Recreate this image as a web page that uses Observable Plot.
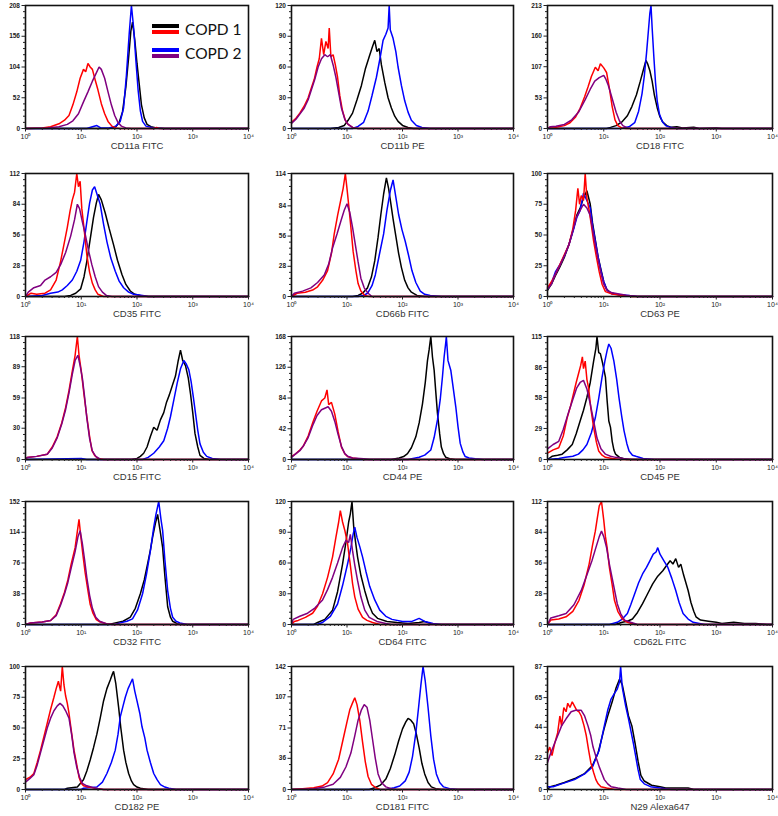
<!DOCTYPE html>
<html>
<head>
<meta charset="utf-8">
<script src="https://cdn.jsdelivr.net/npm/d3@7"></script>
<script src="https://cdn.jsdelivr.net/npm/@observablehq/plot@0.6"></script>
<style>
  html, body { margin: 0; padding: 0; background: #fff; }
  #wrap { position: relative; width: 778px; height: 816px; overflow: hidden; font-family: "Liberation Sans", Arial, sans-serif; }
  #wrap svg { position: absolute; overflow: visible; }
  .lg-line { position: absolute; height: 4px; width: 27px; }
  .lg-text { position: absolute; font-family: Lato, "Open Sans", sans-serif; font-size: 15.5px; color: #111; }
</style>
</head>
<body>
<div id="wrap"></div>
<script>
// ---------- labels & ticks ----------
const panelNames = ["CD11a FITC","CD11b PE","CD18 FITC","CD35 FITC","CD66b FITC","CD63 PE","CD15 FITC","CD44 PE","CD45 PE","CD32 FITC","CD64 FITC","CD62L FITC","CD182 PE","CD181 FITC","N29 Alexa647"];
const yTickLabels = [
  [0,52,104,156,208],[0,30,60,90,120],[0,53,107,160,213],
  [0,28,56,84,112],[0,28,56,84,114],[0,25,50,75,100],
  [0,30,59,89,118],[0,42,84,126,168],[0,29,58,86,115],
  [0,38,76,114,152],[0,30,60,90,120],[0,28,56,84,112],
  [0,25,50,75,100],[0,36,71,107,142],[0,22,44,65,87]
];
const xDecades = [0,1,2,3,4];
const xTickLabels = ["10\u2070","10\u00b9","10\u00b2","10\u00b3","10\u2074"];
const legendLabels = ["COPD 1","COPD 2"];

// ---------- histogram curves: [log10 intensity, count] ----------
const cd11aRed = [[0,0],[0.3,1],[0.45,3],[0.6,8],[0.7,14],[0.78,22],[0.85,40],[0.92,62],[0.98,85],[1.04,100],[1.08,96],[1.12,110],[1.16,104],[1.2,100],[1.25,82],[1.3,65],[1.36,42],[1.42,25],[1.48,12],[1.55,4],[1.62,1],[1.7,0],[2.3,0],[2.35,2],[2.4,0],[4,0]];
const cd11aPurple = [[0,0],[0.4,1],[0.6,3],[0.75,7],[0.85,13],[0.95,25],[1.04,45],[1.12,62],[1.2,80],[1.26,92],[1.32,104],[1.36,100],[1.42,85],[1.48,62],[1.54,40],[1.6,22],[1.66,10],[1.72,4],[1.8,1],[1.9,0],[4,0]];
const cd11aBlack = [[0,0],[1.5,0],[1.62,3],[1.68,10],[1.74,28],[1.8,70],[1.85,120],[1.89,165],[1.92,180],[1.96,150],[2.0,110],[2.04,75],[2.08,40],[2.13,18],[2.18,7],[2.25,3],[2.35,1],[2.5,0],[4,0]];
const cd11aBlue = [[0,0],[1.1,0],[1.2,3],[1.28,5],[1.35,1],[1.5,1],[1.62,4],[1.7,12],[1.76,35],[1.81,90],[1.86,160],[1.9,208],[1.94,170],[1.98,115],[2.02,65],[2.06,30],[2.1,12],[2.16,4],[2.3,1],[2.5,0],[4,0]];

const cd11bRed = [[0,6],[0.08,10],[0.15,15],[0.23,22],[0.3,30],[0.36,40],[0.41,48],[0.46,60],[0.5,68],[0.54,88],[0.58,72],[0.62,85],[0.66,78],[0.68,98],[0.71,70],[0.75,72],[0.79,62],[0.83,50],[0.87,32],[0.92,17],[0.97,8],[1.02,4],[1.1,1],[1.2,0],[4,0]];
const cd11bPurple = [[0,5],[0.08,9],[0.15,14],[0.23,20],[0.3,28],[0.36,38],[0.42,48],[0.48,60],[0.54,68],[0.6,72],[0.65,70],[0.7,72],[0.75,62],[0.8,50],[0.85,35],[0.9,20],[0.96,9],[1.02,4],[1.1,1],[1.2,0],[4,0]];
const cd11bBlack = [[0,0],[0.7,0],[0.85,1],[0.95,3],[1.02,8],[1.1,15],[1.18,28],[1.26,42],[1.33,58],[1.4,70],[1.46,80],[1.5,86],[1.54,75],[1.58,78],[1.62,62],[1.68,45],[1.74,30],[1.8,20],[1.86,12],[1.92,7],[2.0,3],[2.1,1],[2.2,0],[4,0]];
const cd11bBlue = [[0,0],[1.1,0],[1.2,2],[1.3,6],[1.38,17],[1.45,32],[1.53,50],[1.6,70],[1.65,86],[1.7,92],[1.74,98],[1.76,120],[1.78,96],[1.83,88],[1.88,75],[1.92,60],[1.98,42],[2.04,27],[2.1,16],[2.16,8],[2.25,3],[2.35,1],[2.5,0],[4,0]];

const cd18Red = [[0,0],[0.05,3],[0.15,2],[0.3,5],[0.4,10],[0.5,20],[0.58,35],[0.66,55],[0.72,72],[0.78,90],[0.85,106],[0.9,100],[0.94,112],[1.0,105],[1.05,97],[1.1,70],[1.15,38],[1.2,15],[1.25,5],[1.32,1],[1.4,0],[4,0]];
const cd18Purple = [[0,0],[0.05,3],[0.15,4],[0.3,7],[0.43,15],[0.55,28],[0.67,50],[0.76,68],[0.84,82],[0.92,88],[1.0,92],[1.04,85],[1.08,75],[1.12,62],[1.17,45],[1.22,28],[1.28,13],[1.34,5],[1.42,1],[1.5,0],[4,0]];
const cd18Black = [[0,0],[1.05,0],[1.12,2],[1.22,5],[1.33,12],[1.42,22],[1.5,38],[1.58,58],[1.65,82],[1.7,100],[1.75,118],[1.78,112],[1.82,100],[1.86,82],[1.9,58],[1.95,36],[2.0,20],[2.05,11],[2.12,5],[2.2,2],[2.3,3],[2.4,1],[2.6,2],[2.7,0],[3.0,1],[3.1,0],[4,0]];
const cd18Blue = [[0,0],[1.3,0],[1.45,3],[1.55,10],[1.62,30],[1.68,60],[1.72,90],[1.76,130],[1.79,165],[1.82,200],[1.84,213],[1.86,175],[1.89,125],[1.92,80],[1.95,48],[1.99,25],[2.04,12],[2.1,5],[2.18,2],[2.3,0],[4,0]];

const cd35Red = [[0,0],[0.1,3],[0.2,2],[0.35,3],[0.45,6],[0.55,15],[0.63,32],[0.7,50],[0.75,63],[0.8,78],[0.84,88],[0.88,95],[0.92,112],[0.95,100],[0.98,105],[1.01,80],[1.05,62],[1.1,38],[1.15,22],[1.2,12],[1.25,6],[1.3,2],[1.4,0],[4,0]];
const cd35Purple = [[0,0],[0.05,4],[0.15,8],[0.27,10],[0.35,15],[0.45,18],[0.55,22],[0.63,29],[0.72,40],[0.81,55],[0.88,70],[0.93,84],[0.97,80],[1.02,68],[1.07,57],[1.13,42],[1.19,29],[1.25,18],[1.31,9],[1.38,4],[1.45,1],[1.55,0],[4,0]];
const cd35Black = [[0,0],[0.7,0],[0.81,1],[0.9,3],[0.99,7],[1.05,18],[1.1,32],[1.16,52],[1.22,72],[1.27,85],[1.31,93],[1.36,88],[1.43,76],[1.5,62],[1.58,47],[1.65,33],[1.73,20],[1.8,11],[1.88,5],[1.96,2],[2.06,1],[2.2,0],[4,0]];
const cd35Blue = [[0,0],[0.3,1],[0.45,3],[0.58,4],[0.66,6],[0.75,10],[0.84,15],[0.92,23],[0.99,33],[1.05,50],[1.1,68],[1.15,85],[1.2,97],[1.24,100],[1.29,92],[1.34,84],[1.4,66],[1.46,50],[1.53,35],[1.61,23],[1.68,14],[1.76,8],[1.85,4],[1.94,2],[2.1,1],[2.2,0],[4,0]];

const cd66bRed = [[0,0],[0.1,3],[0.25,4],[0.38,6],[0.47,9],[0.56,15],[0.65,24],[0.72,40],[0.77,58],[0.83,75],[0.89,90],[0.93,100],[0.97,114],[1.0,100],[1.03,85],[1.07,64],[1.11,42],[1.16,24],[1.2,12],[1.25,5],[1.32,1],[1.4,0],[4,0]];
const cd66bPurple = [[0,0],[0.05,3],[0.2,5],[0.35,8],[0.47,13],[0.59,20],[0.67,30],[0.74,45],[0.82,58],[0.89,70],[0.95,80],[1.0,86],[1.05,78],[1.1,64],[1.15,48],[1.2,32],[1.25,17],[1.31,8],[1.38,3],[1.45,0],[4,0]];
const cd66bBlack = [[0,0],[1.1,0],[1.2,1],[1.28,3],[1.37,8],[1.44,18],[1.5,33],[1.56,55],[1.61,76],[1.66,95],[1.71,110],[1.75,100],[1.79,86],[1.83,72],[1.88,56],[1.93,40],[1.98,27],[2.04,15],[2.1,8],[2.16,4],[2.26,1],[2.4,0],[4,0]];
const cd66bBlue = [[0,0],[1.2,0],[1.3,1],[1.37,3],[1.45,10],[1.51,20],[1.58,38],[1.66,58],[1.72,80],[1.78,98],[1.83,108],[1.88,92],[1.93,76],[1.99,62],[2.05,51],[2.11,38],[2.17,24],[2.24,13],[2.32,5],[2.4,2],[2.5,1],[2.7,0],[4,0]];

const cd63Red = [[0,7],[0.07,12],[0.14,18],[0.22,26],[0.3,34],[0.38,42],[0.45,55],[0.5,70],[0.54,88],[0.57,75],[0.6,82],[0.64,78],[0.67,100],[0.7,80],[0.74,70],[0.78,58],[0.82,45],[0.87,32],[0.92,20],[0.97,10],[1.03,4],[1.15,2],[1.3,1],[1.5,0],[4,0]];
const cd63Purple = [[0,6],[0.07,10],[0.14,18],[0.22,25],[0.3,33],[0.38,42],[0.46,55],[0.52,65],[0.58,70],[0.64,75],[0.7,72],[0.76,66],[0.8,55],[0.85,42],[0.9,30],[0.95,19],[1.0,10],[1.06,5],[1.15,3],[1.4,1],[1.6,0],[4,0]];
const cd63Black = [[0,5],[0.07,10],[0.14,17],[0.22,24],[0.3,32],[0.38,42],[0.46,55],[0.52,66],[0.58,72],[0.64,80],[0.7,86],[0.76,75],[0.8,60],[0.85,46],[0.9,32],[0.95,22],[1.0,12],[1.05,6],[1.12,3],[1.3,1],[1.5,0],[4,0]];
const cd63Blue = [[0,6],[0.07,11],[0.14,20],[0.22,26],[0.3,33],[0.38,42],[0.46,54],[0.52,64],[0.58,70],[0.64,84],[0.7,78],[0.76,72],[0.8,58],[0.85,45],[0.9,32],[0.95,21],[1.0,12],[1.06,5],[1.15,2],[1.4,1],[1.6,0],[4,0]];

const cd15Red = [[0,0],[0.03,2],[0.2,3],[0.39,5],[0.48,12],[0.57,22],[0.65,35],[0.72,50],[0.78,66],[0.84,85],[0.89,100],[0.93,118],[0.96,100],[1.0,85],[1.05,62],[1.1,41],[1.15,22],[1.19,9],[1.24,4],[1.3,1],[1.4,0],[4,0]];
const cd15Purple = [[0,0],[0.03,2],[0.2,3],[0.39,5],[0.48,11],[0.57,21],[0.65,34],[0.72,48],[0.78,64],[0.84,82],[0.89,95],[0.94,100],[0.98,90],[1.02,78],[1.06,60],[1.1,40],[1.15,20],[1.2,8],[1.26,3],[1.35,0],[4,0]];
const cd15Black = [[0,0],[1.9,0],[2.0,1],[2.06,3],[2.12,6],[2.18,12],[2.24,22],[2.3,31],[2.36,28],[2.42,38],[2.48,45],[2.53,55],[2.58,62],[2.64,72],[2.69,80],[2.74,95],[2.78,105],[2.82,95],[2.87,90],[2.92,78],[2.96,63],[3.0,45],[3.04,25],[3.09,12],[3.13,4],[3.2,1],[3.3,0],[4,0]];
const cd15Blue = [[0,0],[1.0,1],[1.1,0],[2.1,0],[2.2,2],[2.3,6],[2.4,12],[2.48,18],[2.55,30],[2.6,41],[2.66,57],[2.72,73],[2.78,87],[2.84,95],[2.88,92],[2.93,86],[2.97,75],[3.01,60],[3.05,44],[3.09,28],[3.13,15],[3.19,7],[3.25,3],[3.35,1],[3.5,0],[4,0]];

const cd44Red = [[0,4],[0.08,8],[0.15,13],[0.21,18],[0.3,32],[0.39,52],[0.46,66],[0.54,80],[0.6,84],[0.64,95],[0.67,75],[0.72,78],[0.78,62],[0.84,38],[0.9,17],[0.96,8],[1.01,4],[1.1,2],[1.2,1],[1.3,0],[4,0]];
const cd44Purple = [[0,3],[0.08,8],[0.15,12],[0.21,18],[0.3,30],[0.39,48],[0.46,60],[0.54,68],[0.6,70],[0.66,72],[0.72,66],[0.78,52],[0.84,34],[0.9,18],[0.96,8],[1.02,4],[1.1,2],[1.3,1],[1.4,0],[4,0]];
const cd44Black = [[0,0],[1.8,0],[1.94,2],[2.02,4],[2.09,8],[2.16,16],[2.24,31],[2.3,50],[2.36,76],[2.41,105],[2.45,135],[2.48,150],[2.51,168],[2.54,140],[2.57,122],[2.6,92],[2.63,63],[2.67,35],[2.7,17],[2.74,8],[2.78,3],[2.85,1],[2.95,0],[4,0]];
const cd44Blue = [[0,0],[2.1,0],[2.3,3],[2.4,6],[2.51,13],[2.57,30],[2.63,54],[2.68,82],[2.72,113],[2.75,140],[2.78,160],[2.79,168],[2.82,135],[2.87,122],[2.91,100],[2.96,72],[3.0,45],[3.04,22],[3.09,10],[3.13,4],[3.2,2],[3.31,1],[3.45,0],[4,0]];

const cd45Red = [[0,6],[0.1,9],[0.2,11],[0.28,22],[0.35,39],[0.41,50],[0.46,61],[0.51,72],[0.55,80],[0.59,88],[0.62,96],[0.64,85],[0.67,92],[0.7,75],[0.73,67],[0.77,48],[0.82,30],[0.87,16],[0.91,8],[0.97,4],[1.03,2],[1.15,1],[1.3,0],[4,0]];
const cd45Purple = [[0,10],[0.1,14],[0.2,17],[0.28,28],[0.38,45],[0.45,56],[0.52,67],[0.58,72],[0.64,74],[0.7,66],[0.76,52],[0.82,36],[0.88,20],[0.95,10],[1.03,5],[1.12,3],[1.21,2],[1.35,1],[1.5,0],[4,0]];
const cd45Black = [[0,0],[0.08,3],[0.18,4],[0.26,5],[0.35,9],[0.44,14],[0.51,24],[0.58,36],[0.64,46],[0.7,58],[0.76,72],[0.82,92],[0.86,104],[0.88,115],[0.91,100],[0.94,99],[0.98,90],[1.03,77],[1.06,55],[1.09,36],[1.12,30],[1.15,17],[1.18,9],[1.21,5],[1.28,2],[1.4,0],[4,0]];
const cd45Blue = [[0,0],[0.2,1],[0.32,2],[0.45,3],[0.55,5],[0.63,9],[0.7,14],[0.78,25],[0.85,39],[0.91,57],[0.97,77],[1.02,92],[1.06,102],[1.09,108],[1.13,104],[1.18,92],[1.23,75],[1.27,58],[1.32,40],[1.36,27],[1.41,15],[1.45,8],[1.51,4],[1.57,3],[1.7,1],[1.9,0],[4,0]];

const cd32Red = [[0,0],[0.09,2],[0.3,3],[0.45,5],[0.55,12],[0.63,26],[0.7,40],[0.76,55],[0.82,75],[0.89,95],[0.93,115],[0.96,130],[0.99,110],[1.03,86],[1.07,64],[1.12,42],[1.16,25],[1.21,14],[1.27,6],[1.34,3],[1.45,1],[1.55,0],[4,0]];
const cd32Purple = [[0,0],[0.09,2],[0.3,3],[0.45,5],[0.55,11],[0.63,24],[0.7,38],[0.76,52],[0.82,70],[0.89,90],[0.94,108],[0.98,116],[1.02,100],[1.06,80],[1.1,58],[1.15,36],[1.2,20],[1.26,9],[1.33,4],[1.45,1],[1.55,0],[4,0]];
const cd32Black = [[0,0],[1.5,0],[1.61,2],[1.75,4],[1.88,9],[1.97,20],[2.06,38],[2.13,55],[2.19,75],[2.24,92],[2.28,108],[2.33,125],[2.37,136],[2.41,118],[2.46,95],[2.5,60],[2.55,22],[2.6,9],[2.64,4],[2.72,1],[2.8,0],[4,0]];
const cd32Blue = [[0,0],[1.6,0],[1.7,2],[1.82,4],[1.92,7],[2.01,18],[2.1,38],[2.17,62],[2.24,91],[2.3,120],[2.34,136],[2.39,152],[2.43,130],[2.46,116],[2.5,80],[2.55,42],[2.6,20],[2.64,9],[2.7,4],[2.77,2],[2.9,0],[4,0]];

const cd64Red = [[0,0],[0.05,3],[0.12,4],[0.25,7],[0.38,11],[0.47,18],[0.56,30],[0.65,46],[0.74,66],[0.8,85],[0.85,100],[0.88,111],[0.92,100],[0.96,92],[1.01,79],[1.06,58],[1.1,40],[1.14,27],[1.2,15],[1.28,7],[1.36,4],[1.46,2],[1.6,0],[4,0]];
const cd64Purple = [[0,0],[0.03,5],[0.15,8],[0.29,11],[0.42,16],[0.56,24],[0.65,34],[0.74,46],[0.83,60],[0.92,75],[0.98,82],[1.03,80],[1.06,88],[1.1,72],[1.14,58],[1.19,43],[1.25,27],[1.32,14],[1.4,7],[1.54,3],[1.7,1],[1.8,0],[4,0]];
const cd64Black = [[0,0],[0.4,0],[0.47,2],[0.6,5],[0.74,14],[0.83,32],[0.92,59],[0.98,80],[1.03,100],[1.06,108],[1.09,120],[1.12,96],[1.15,82],[1.19,66],[1.25,48],[1.32,33],[1.39,20],[1.46,11],[1.55,6],[1.72,3],[1.9,2],[2.1,1],[2.3,2],[2.4,3],[2.5,1],[2.6,0],[4,0]];
const cd64Blue = [[0,0],[0.45,0],[0.56,2],[0.7,8],[0.83,20],[0.92,38],[1.01,59],[1.07,75],[1.11,88],[1.14,95],[1.18,85],[1.23,76],[1.28,66],[1.34,52],[1.41,37],[1.5,24],[1.59,14],[1.7,8],[1.81,5],[2.0,3],[2.17,3],[2.3,6],[2.4,3],[2.55,1],[2.7,0],[4,0]];

const cd62lRed = [[0,0],[0.06,4],[0.2,5],[0.33,7],[0.45,12],[0.56,22],[0.65,36],[0.74,55],[0.8,72],[0.85,85],[0.88,95],[0.92,108],[0.96,112],[1.0,95],[1.03,80],[1.06,70],[1.1,52],[1.15,36],[1.19,22],[1.25,12],[1.33,5],[1.42,2],[1.55,0],[4,0]];
const cd62lPurple = [[0,0],[0.06,6],[0.2,8],[0.33,10],[0.47,18],[0.6,31],[0.7,45],[0.79,58],[0.86,70],[0.92,80],[0.96,85],[1.0,80],[1.05,70],[1.1,55],[1.17,37],[1.24,19],[1.3,10],[1.37,4],[1.48,2],[1.6,0],[4,0]];
const cd62lBlack = [[0,0],[1.2,0],[1.33,2],[1.42,3],[1.51,5],[1.6,11],[1.69,19],[1.78,28],[1.87,37],[1.96,44],[2.05,49],[2.12,54],[2.18,58],[2.23,55],[2.28,60],[2.33,52],[2.37,55],[2.42,45],[2.46,38],[2.5,31],[2.55,20],[2.6,12],[2.64,7],[2.72,4],[2.86,3],[3.0,2],[3.1,1],[3.31,2],[3.5,1],[3.7,1],[3.9,0],[4,0]];
const cd62lBlue = [[0,0],[1.1,0],[1.24,2],[1.33,5],[1.42,10],[1.48,18],[1.55,28],[1.62,38],[1.69,46],[1.76,52],[1.82,58],[1.88,64],[1.93,66],[1.96,70],[2.0,64],[2.07,58],[2.14,52],[2.21,42],[2.28,31],[2.34,20],[2.41,10],[2.5,5],[2.59,2],[2.7,1],[2.8,0],[4,0]];

const cd182Red = [[0,8],[0.08,10],[0.15,13],[0.21,22],[0.27,32],[0.33,43],[0.39,54],[0.45,65],[0.51,75],[0.55,82],[0.59,88],[0.63,80],[0.66,100],[0.69,85],[0.72,76],[0.75,70],[0.78,62],[0.83,45],[0.87,32],[0.92,20],[0.96,10],[1.0,5],[1.04,3],[1.12,2],[1.25,1],[1.4,0],[4,0]];
const cd182Purple = [[0,6],[0.08,9],[0.15,12],[0.21,20],[0.27,30],[0.33,40],[0.39,50],[0.45,58],[0.51,64],[0.57,68],[0.62,70],[0.67,68],[0.72,64],[0.78,58],[0.83,44],[0.87,30],[0.92,18],[0.97,10],[1.02,5],[1.1,3],[1.25,1],[1.4,0],[4,0]];
const cd182Black = [[0,0],[0.7,0],[0.75,1],[0.93,2],[1.04,8],[1.1,15],[1.16,24],[1.22,34],[1.28,45],[1.34,58],[1.4,72],[1.46,82],[1.52,89],[1.56,94],[1.58,96],[1.62,86],[1.67,67],[1.71,50],[1.76,32],[1.8,22],[1.85,13],[1.9,7],[1.94,4],[2.0,2],[2.06,1],[2.2,0],[4,0]];
const cd182Blue = [[0,0],[1.0,0],[1.04,1],[1.28,2],[1.38,6],[1.46,13],[1.54,22],[1.61,32],[1.66,45],[1.7,59],[1.75,68],[1.79,75],[1.84,82],[1.88,86],[1.92,90],[1.96,80],[2.0,72],[2.05,62],[2.09,51],[2.14,42],[2.18,32],[2.24,22],[2.3,13],[2.36,8],[2.42,4],[2.5,2],[2.57,1],[2.7,0],[4,0]];

const cd181Red = [[0,0],[0.2,1],[0.4,2],[0.55,4],[0.65,8],[0.75,18],[0.85,35],[0.93,58],[1.0,78],[1.05,92],[1.1,100],[1.14,106],[1.18,98],[1.23,80],[1.28,55],[1.33,32],[1.38,15],[1.44,6],[1.52,2],[1.6,0],[4,0]];
const cd181Purple = [[0,0],[0.4,1],[0.6,3],[0.75,6],[0.88,14],[0.98,26],[1.07,42],[1.14,62],[1.2,80],[1.26,92],[1.31,98],[1.36,95],[1.41,80],[1.46,58],[1.51,36],[1.56,18],[1.62,8],[1.7,3],[1.8,1],[1.9,0],[4,0]];
const cd181Black = [[0,0],[1.4,0],[1.5,2],[1.6,5],[1.7,12],[1.78,24],[1.86,40],[1.93,56],[2.0,70],[2.06,78],[2.1,82],[2.15,80],[2.2,76],[2.25,64],[2.3,48],[2.35,30],[2.4,18],[2.46,8],[2.52,3],[2.6,1],[2.7,0],[4,0]];
const cd181Blue = [[0,0],[1.7,0],[1.85,2],[1.95,4],[2.05,10],[2.12,20],[2.18,38],[2.24,65],[2.29,95],[2.33,120],[2.37,142],[2.41,125],[2.46,95],[2.51,62],[2.56,35],[2.61,18],[2.67,8],[2.74,3],[2.85,1],[3.0,0],[4,0]];

const n29Red = [[0,26],[0.04,30],[0.08,24],[0.13,33],[0.18,40],[0.22,52],[0.25,45],[0.29,58],[0.33,55],[0.36,61],[0.4,58],[0.44,62],[0.48,59],[0.52,56],[0.56,55],[0.6,52],[0.65,45],[0.69,38],[0.73,28],[0.77,19],[0.82,12],[0.86,7],[0.9,4],[0.95,2],[1.05,1],[1.2,0],[4,0]];
const n29Purple = [[0,19],[0.05,25],[0.13,33],[0.2,40],[0.25,45],[0.33,50],[0.42,55],[0.5,56],[0.6,56],[0.66,52],[0.72,45],[0.77,38],[0.81,30],[0.87,22],[0.92,16],[0.97,11],[1.01,7],[1.07,4],[1.13,2],[1.25,1],[1.4,0],[4,0]];
const n29Black = [[0,0],[0.05,2],[0.15,3],[0.3,5],[0.5,8],[0.65,11],[0.8,17],[0.9,26],[1.0,42],[1.07,52],[1.15,62],[1.22,72],[1.28,78],[1.33,74],[1.38,64],[1.44,52],[1.5,45],[1.56,32],[1.61,20],[1.66,10],[1.72,6],[1.85,3],[2.0,2],[2.1,1],[2.5,1],[2.6,0],[4,0]];
const n29Blue = [[0,2],[0.1,2],[0.25,4],[0.48,7],[0.66,11],[0.8,16],[0.92,28],[1.01,45],[1.07,56],[1.13,64],[1.19,68],[1.24,71],[1.28,76],[1.3,87],[1.33,72],[1.39,59],[1.44,50],[1.48,42],[1.53,32],[1.57,23],[1.61,14],[1.65,7],[1.72,4],[1.83,2],[2.0,1],[2.2,0],[4,0]];

// series per panel, in drawing order: black, blue, red, purple
const blackSeries = [cd11aBlack,cd11bBlack,cd18Black,cd35Black,cd66bBlack,cd63Black,cd15Black,cd44Black,cd45Black,cd32Black,cd64Black,cd62lBlack,cd182Black,cd181Black,n29Black];
const blueSeries = [cd11aBlue,cd11bBlue,cd18Blue,cd35Blue,cd66bBlue,cd63Blue,cd15Blue,cd44Blue,cd45Blue,cd32Blue,cd64Blue,cd62lBlue,cd182Blue,cd181Blue,n29Blue];
const redSeries = [cd11aRed,cd11bRed,cd18Red,cd35Red,cd66bRed,cd63Red,cd15Red,cd44Red,cd45Red,cd32Red,cd64Red,cd62lRed,cd182Red,cd181Red,n29Red];
const purpleSeries = [cd11aPurple,cd11bPurple,cd18Purple,cd35Purple,cd66bPurple,cd63Purple,cd15Purple,cd44Purple,cd45Purple,cd32Purple,cd64Purple,cd62lPurple,cd182Purple,cd181Purple,n29Purple];

// ---------- layout ----------
const colLeft = [25, 291, 547];
const colWidth = [223, 222, 225];
const rowTop = [5, 173, 336, 501, 666];
const frameH = 123;
const mL = 24, mR = 6, mT = 5, mB = 32;
const colors = {black: "#000000", blue: "#0000ff", red: "#ff0000", purple: "#800080"};

const minorX = [];
for (let d = 0; d < 4; d++) for (let k = 2; k <= 9; k++) minorX.push(d + Math.log10(k));

const wrap = document.getElementById("wrap");

panelNames.forEach((name, i) => {
  const r = Math.floor(i / 3), c = i % 3;
  const ticks = yTickLabels[i];
  const yMax = ticks[ticks.length - 1];
  const minorY = [];
  for (let t = 0; t < ticks.length - 1; t++) {
    const step = (ticks[t + 1] - ticks[t]) / 5;
    for (let k = 1; k < 5; k++) minorY.push(ticks[t] + k * step);
  }
  const lineOpts = (color) => ({x: d => d[0], y: d => d[1], stroke: color, strokeWidth: 1.5, strokeLinejoin: "miter"});
  const svg = Plot.plot({
    width: colWidth[c] + mL + mR,
    height: frameH + mT + mB,
    marginLeft: mL, marginRight: mR, marginTop: mT, marginBottom: mB,
    style: {fontFamily: "'Liberation Sans', Arial, sans-serif", background: "transparent", overflow: "visible"},
    x: {domain: [0, 4], axis: null},
    y: {domain: [0, yMax], axis: null, clamp: true},
    marks: [
      Plot.line(blackSeries[i], lineOpts(colors.black)),
      Plot.line(blueSeries[i], lineOpts(colors.blue)),
      Plot.line(redSeries[i], lineOpts(colors.red)),
      Plot.line(purpleSeries[i], lineOpts(colors.purple)),
      Plot.frame({stroke: "#111", strokeWidth: 1.6}),
      Plot.axisX(minorX, {tickSize: 2, tickFormat: () => "", label: null, stroke: "#222"}),
      Plot.axisX(xDecades, {tickSize: 3.5, tickPadding: 2, fontSize: 7, tickFormat: d => xTickLabels[d], label: null, fill: "#222", stroke: "#222"}),
      Plot.axisY(minorY, {tickSize: 2, tickFormat: () => "", label: null, stroke: "#222"}),
      Plot.axisY(ticks, {tickSize: 3.5, tickPadding: 2, fontSize: 6.5, label: null, fill: "#222", stroke: "#222", fontWeight: "bold"}),
      Plot.text([name], {frameAnchor: "bottom", dy: 20, fontSize: 9.5, fill: "#333", letterSpacing: 0.4})
    ]
  });
  svg.style.left = (colLeft[c] - mL) + "px";
  svg.style.top = (rowTop[r] - mT) + "px";
  wrap.appendChild(svg);
});

// ---------- legend (HTML overlay in first panel) ----------
const legendItems = [
  {label: legendLabels[0], top: colors.black, bottom: colors.red, y: 24},
  {label: legendLabels[1], top: colors.blue, bottom: colors.purple, y: 48}
];
legendItems.forEach(it => {
  const a = document.createElement("div");
  a.className = "lg-line"; a.style.left = "152px"; a.style.top = it.y + "px"; a.style.background = it.top;
  const b = document.createElement("div");
  b.className = "lg-line"; b.style.left = "152px"; b.style.top = (it.y + 6) + "px"; b.style.background = it.bottom;
  const t = document.createElement("div");
  t.className = "lg-text"; t.style.left = "185px"; t.style.top = (it.y - 4) + "px"; t.textContent = it.label;
  wrap.appendChild(a); wrap.appendChild(b); wrap.appendChild(t);
});
</script>
</body>
</html>
